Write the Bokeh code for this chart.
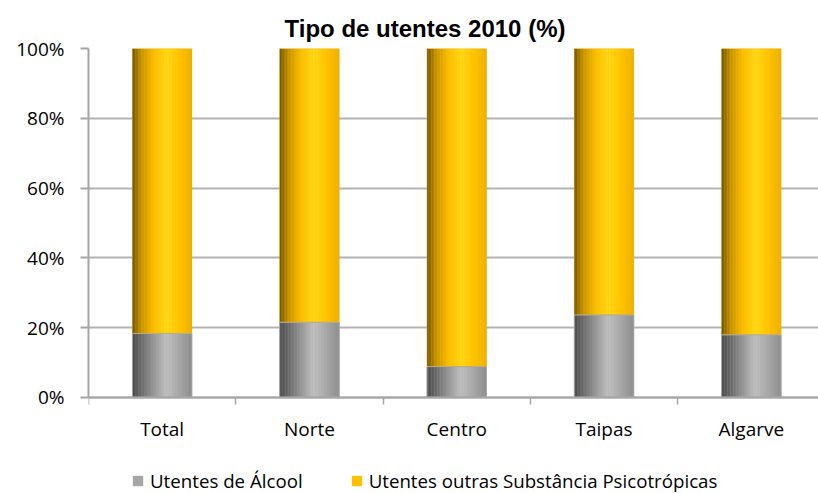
from bokeh.plotting import figure
from bokeh.models import (Range1d, FixedTicker, PrintfTickFormatter, Legend, LegendItem)
from bokeh.embed import file_html
from bokeh.resources import INLINE

# ---- data ----
categories = ["Total", "Norte", "Centro", "Taipas", "Algarve"]
alcool = [18.3, 21.5, 8.8, 23.6, 17.9]
outras = [81.7, 78.5, 91.2, 76.4, 82.1]
series_names = ["Utentes de Álcool", "Utentes outras Substância Psicotrópicas"]
y_ticks = [0, 20, 40, 60, 80, 100]
title_text = "Tipo de utentes 2010 (%)"

# ---- style ----
FONT = "Open Sans"
GRID = "#b3b3b3"
AXIS = "#a6a6a6"
BAR_W = 0.404
N_STRIPES = 40

grey_stops = [(0.0, (72, 72, 72)), (0.15, (105, 105, 105)), (0.55, (190, 190, 190)),
              (0.62, (188, 188, 188)), (1.0, (140, 140, 140))]
yellow_stops = [(0.0, (110, 82, 0)), (0.15, (196, 146, 0)), (0.35, (250, 188, 0)),
                (0.58, (255, 216, 24)), (0.8, (255, 194, 0)), (1.0, (238, 176, 0))]


def grad(stops, t):
    for (t0, c0), (t1, c1) in zip(stops[:-1], stops[1:]):
        if t0 <= t <= t1:
            f = (t - t0) / (t1 - t0) if t1 > t0 else 0
            c = [round(a + (b - a) * f) for a, b in zip(c0, c1)]
            return "#%02x%02x%02x" % tuple(c)
    return "#%02x%02x%02x" % stops[-1][1]


n = len(categories)
xs = list(range(n))
frame_px = 730
cat_px = 147.3
x_end = -0.5 + frame_px / cat_px
# frame extends below 0 to host the category labels and legend
y_low = -100 * 96.3 / 349

p = figure(width=818, height=493, output_backend="svg", toolbar_location=None,
           x_range=Range1d(-0.5, x_end), y_range=Range1d(y_low, 100),
           min_border_left=88, min_border_right=0, min_border_top=48, min_border_bottom=0)
p.outline_line_color = None
p.background_fill_color = "white"
p.border_fill_color = "white"

# title
p.title.text = title_text
p.title.text_font = "Liberation Sans"
p.title.text_font_style = "bold"
p.title.text_font_size = "24px"
p.title.align = "left"
p.title.offset = 196
p.title.standoff = 14
p.title.text_color = "black"

bottoms1 = [0] * n
tops1 = [a for a in alcool]
bottoms2 = tops1
tops2 = [a + o for a, o in zip(alcool, outras)]

# flat base bars (also used as legend glyphs)
base1 = p.vbar(x=xs, bottom=bottoms1, top=tops1, width=BAR_W,
               fill_color="#a6a6a6", line_color=None)
base2 = p.vbar(x=xs, bottom=bottoms2, top=tops2, width=BAR_W,
               fill_color="#ffc000", line_color=None)

# cylinder-like gradient via stripes
sw = BAR_W / N_STRIPES
for i in range(N_STRIPES):
    t = (i + 0.5) / N_STRIPES
    off = -BAR_W / 2 + (i + 0.5) * sw
    sx = [x + off for x in xs]
    p.vbar(x=sx, bottom=bottoms1, top=tops1, width=sw * 1.1,
           fill_color=grad(grey_stops, t), line_color=None)
    p.vbar(x=sx, bottom=bottoms2, top=tops2, width=sw * 1.1,
           fill_color=grad(yellow_stops, t), line_color=None)

# thin light outlines
p.vbar(x=xs, bottom=bottoms1, top=tops1, width=BAR_W, fill_color=None,
       line_color="#a8a8a8", line_width=1)
p.vbar(x=xs, bottom=bottoms2, top=tops2, width=BAR_W, fill_color=None,
       line_color="#d9b24a", line_width=0.6, line_alpha=0.6)

# grid
p.xgrid.visible = False
p.ygrid.ticker = FixedTicker(ticks=y_ticks)
p.ygrid.grid_line_color = GRID
p.ygrid.grid_line_width = 2
p.ygrid.level = "underlay"

# y axis
p.yaxis.ticker = FixedTicker(ticks=y_ticks)
p.yaxis.bounds = (0, 100)
p.yaxis.formatter = PrintfTickFormatter(format="%d%%")
p.yaxis.axis_line_color = AXIS
p.yaxis.axis_line_width = 2
p.yaxis.major_tick_line_color = AXIS
p.yaxis.major_tick_line_width = 2
p.yaxis.major_tick_out = 8
p.yaxis.major_tick_in = 0
p.yaxis.minor_tick_line_color = None
p.yaxis.major_label_text_font = FONT
p.yaxis.major_label_text_font_size = "19px"
p.yaxis.major_label_text_color = "black"
p.yaxis.major_label_standoff = 16

# x axis at y = 0: labels at centers, ticks at boundaries
p.xaxis.fixed_location = 0
p.xaxis.ticker = FixedTicker(ticks=xs, minor_ticks=[x - 0.5 for x in xs])
p.xaxis.major_label_overrides = {x: c for x, c in zip(xs, categories)}
p.xaxis.axis_line_color = AXIS
p.xaxis.axis_line_width = 2
p.xaxis.major_tick_line_color = None
p.xaxis.major_tick_out = 0
p.xaxis.major_tick_in = 0
p.xaxis.minor_tick_line_color = AXIS
p.xaxis.minor_tick_line_width = 1.5
p.xaxis.minor_tick_out = 7
p.xaxis.minor_tick_in = 0
p.xaxis.major_label_text_font = FONT
p.xaxis.major_label_text_font_size = "19px"
p.xaxis.major_label_text_color = "black"
p.xaxis.major_label_standoff = 12

# legend at the bottom of the frame
legend = Legend(items=[LegendItem(label=series_names[0], renderers=[base1]),
                       LegendItem(label=series_names[1], renderers=[base2])],
                orientation="horizontal", location=(43, 0),
                glyph_width=13, glyph_height=13, label_standoff=6, spacing=47,
                padding=0, margin=0,
                border_line_color=None, background_fill_alpha=0,
                label_text_font=FONT, label_text_font_size="18.7px",
                label_text_color="black")
p.add_layout(legend, "center")

open("out.html", "w").write(file_html(p, INLINE))
